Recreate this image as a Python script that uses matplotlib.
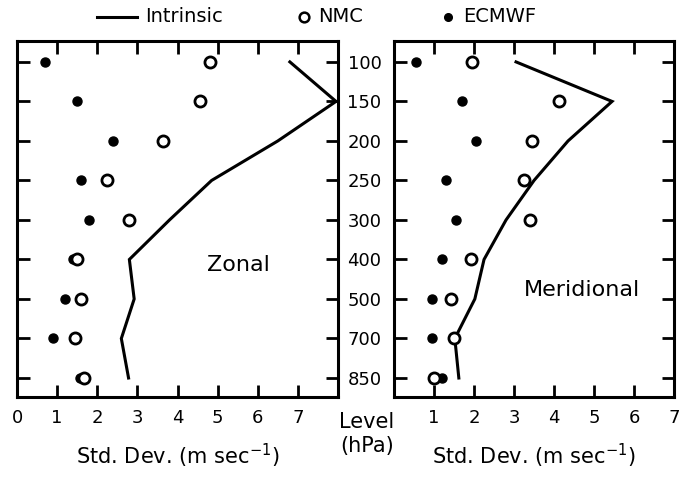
import matplotlib
matplotlib.use("Agg")
import matplotlib.pyplot as plt
from matplotlib.lines import Line2D

plt.rcParams["font.family"] = ["DejaVu Sans"]

LEVELS = ["100", "150", "200", "250", "300", "400", "500", "700", "850"]

# Zonal (left panel)
zonal_intrinsic = [6.8, 7.95, 6.5, 4.85, 3.8, 2.8, 2.92, 2.6, 2.78]
zonal_nmc = [4.8, 4.55, 3.65, 2.25, 2.8, 1.5, 1.6, 1.45, 1.68]
zonal_ecmwf = [0.7, 1.5, 2.4, 1.6, 1.8, 1.4, 1.2, 0.9, 1.58]

# Meridional (right panel)
merid_intrinsic = [3.05, 5.45, 4.35, 3.5, 2.8, 2.25, 2.02, 1.52, 1.62]
merid_nmc = [1.95, 4.12, 3.45, 3.25, 3.4, 1.93, 1.43, 1.5, 1.0]
merid_ecmwf = [0.55, 1.7, 2.05, 1.3, 1.55, 1.2, 0.95, 0.95, 1.2]

TICK_FS = 13
LW = 2.2


def draw_panel(ax, intrinsic, nmc, ecmwf, xmax, xticks, name, name_xy):
    ypos = list(range(len(LEVELS)))
    ax.plot(intrinsic, ypos, color="black", lw=LW, solid_joinstyle="miter")
    ax.plot(ecmwf, ypos, "o", ms=6.5, color="black", mec="black")
    ax.plot(nmc, ypos, "o", ms=8, mfc="white", mec="black", mew=2.0)
    ax.set_xlim(0, xmax)
    ax.set_ylim(8.48, -0.53)
    ax.set_xticks(xticks)
    ax.set_xticklabels([str(t) for t in xticks], fontsize=TICK_FS)
    ax.set_yticks(ypos)
    ax.tick_params(axis="both", direction="in", length=9, width=2.0,
                   top=True, right=True, pad=9)
    for s in ax.spines.values():
        s.set_linewidth(2.2)
    ax.text(name_xy[0], name_xy[1], name, fontsize=16, ha="center", va="center",
            transform=ax.transAxes)
    ax.set_xlabel("Std. Dev. (m sec$^{-1}$)", fontsize=15, labelpad=10)


fig = plt.figure(figsize=(6.83, 4.78), dpi=100)
ax1 = fig.add_axes([0.0249, 0.1695, 0.470, 0.7448])
ax2 = fig.add_axes([0.5769, 0.1695, 0.410, 0.7448])

draw_panel(ax1, zonal_intrinsic, zonal_nmc, zonal_ecmwf, 8, list(range(0, 8)),
           "Zonal", (0.69, 0.37))
ax1.set_yticklabels([])

draw_panel(ax2, merid_intrinsic, merid_nmc, merid_ecmwf, 7, list(range(1, 8)),
           "Meridional", (0.67, 0.30))
ax2.set_yticklabels(LEVELS, fontsize=TICK_FS)

fig.text(0.537, 0.092, "Level\n(hPa)", fontsize=15, ha="center", va="center",
         linespacing=1.25)

# legend row along the top
ly = 1 - 17 / 478
fig.lines.append(Line2D([97 / 683, 137 / 683], [ly, ly], color="black",
                        lw=LW, transform=fig.transFigure))
fig.text(145 / 683, ly, "Intrinsic", fontsize=14, va="center")
fig.lines.append(Line2D([304 / 683], [ly], marker="o", ms=7, mfc="white",
                        mec="black", mew=1.8, transform=fig.transFigure))
fig.text(318 / 683, ly, "NMC", fontsize=14, va="center")
fig.lines.append(Line2D([448 / 683], [ly], marker="o", ms=5.5, color="black",
                        transform=fig.transFigure))
fig.text(463 / 683, ly, "ECMWF", fontsize=14, va="center")

fig.savefig("out.png", dpi=100)
